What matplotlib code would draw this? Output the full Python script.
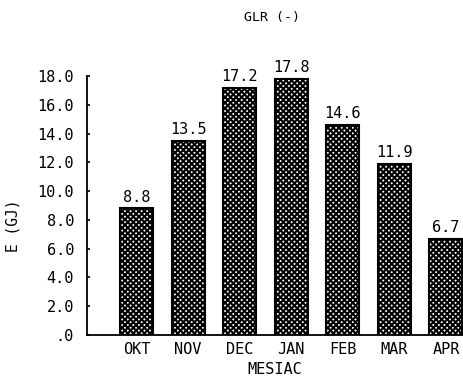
import matplotlib
matplotlib.use("Agg")
import matplotlib.pyplot as plt
import numpy as np

months = ["OKT", "NOV", "DEC", "JAN", "FEB", "MAR", "APR"]
energy = [8.8, 13.5, 17.2, 17.8, 14.6, 11.9, 6.7]
yticks = [0, 2, 4, 6, 8, 10, 12, 14, 16, 18]
ytick_labels = [".0", "2.0", "4.0", "6.0", "8.0", "10.0", "12.0", "14.0", "16.0", "18.0"]

plt.rcParams["font.family"] = ["DejaVu Sans Mono"]
plt.rcParams["hatch.linewidth"] = 1.5

fig = plt.figure(figsize=(4.63, 3.78), dpi=100)
ax = fig.add_axes([86.5 / 463, 43 / 378, 1 - 86.5 / 463, 259 / 378])

x = np.arange(len(months))
ax.bar(x, energy, width=0.64, color="white", edgecolor="black",
       linewidth=1.5, hatch="xxxxxx")

for xi, v in zip(x, energy):
    ax.text(xi, v + 0.25, f"{v:.1f}", ha="center", va="bottom", fontsize=11)

ax.set_xlim(-0.97, 6.33)
ax.set_ylim(0, 18)
ax.set_yticks(yticks)
ax.set_yticklabels(ytick_labels, fontsize=11)
ax.set_xticks(x)
ax.set_xticklabels(months, fontsize=11)
ax.tick_params(axis="y", direction="in", length=2.5, width=1.2, pad=9)
ax.tick_params(axis="x", length=0, pad=5)

for side in ["top", "right"]:
    ax.spines[side].set_visible(False)
ax.spines["left"].set_linewidth(1.3)
ax.spines["bottom"].set_linewidth(1.3)

ax.set_xlabel("MESIAC", fontsize=11, labelpad=4)
ax.set_ylabel("E (GJ)", fontsize=10.5)
ax.yaxis.set_label_coords(-0.175, 0.42)
fig.text(272 / 463, 1 - 18 / 378, "GLR (-)", ha="center", va="center", fontsize=9.5)

fig.savefig("out.png", dpi=100)
